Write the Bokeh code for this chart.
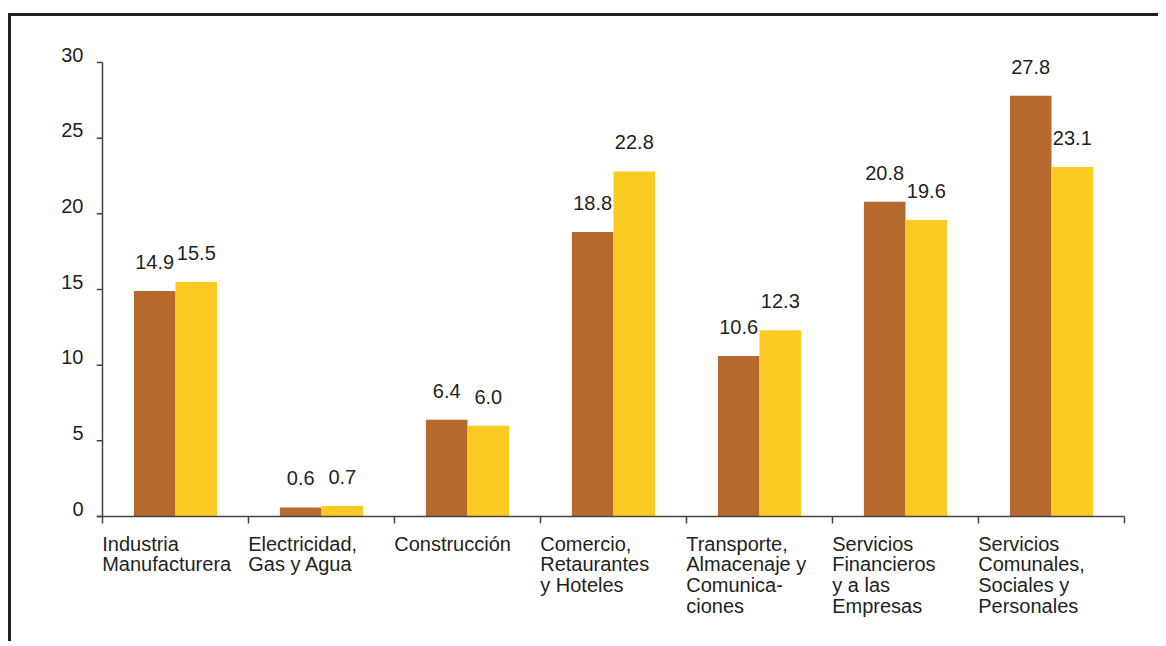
from bokeh.plotting import figure
from bokeh.models import Range1d, LinearAxis, FixedTicker, CustomJSTickFormatter
from bokeh.core.properties import value
from bokeh.embed import file_html
from bokeh.resources import INLINE

categories = [
    "Industria\nManufacturera",
    "Electricidad,\nGas y Agua",
    "Construcción",
    "Comercio,\nRetaurantes\ny Hoteles",
    "Transporte,\nAlmacenaje y\nComunica-\nciones",
    "Servicios\nFinancieros\ny a las\nEmpresas",
    "Servicios\nComunales,\nSociales y\nPersonales",
]
series_1 = [14.9, 0.6, 6.4, 18.8, 10.6, 20.8, 27.8]
series_2 = [15.5, 0.7, 6.0, 22.8, 12.3, 19.6, 23.1]
y_ticks = [0, 5, 10, 15, 20, 25, 30]

BROWN = "#B66A30"
YELLOW = "#FCCB23"
TEXT = "#231F20"
AXIS = "#444444"
FONT = "Liberation Sans"

# page geometry (content origin at 11, 16 after margin + border)
OX, OY = 11, 16
W, H = 1150, 628
n = len(categories)
cat_px = (1124 - 102) / n            # pixels per category
tick_len = 6
frame_left_px = 102 - tick_len
frame_right_px = 1126
x_start = -tick_len / cat_px
x_end = n + (frame_right_px - 1124) / cat_px

k = (516 - 62) / 30.0                # pixels per unit on y
y_end = 30 + (62 - OY) / k
y_start = -((OY + H) - 516) / k

p = figure(width=W, height=H, x_axis_type=None, y_axis_type=None,
           output_backend="svg", toolbar_location=None,
           x_range=Range1d(x_start, x_end), y_range=Range1d(y_start, y_end),
           min_border_left=frame_left_px - OX,
           min_border_right=OX + W - frame_right_px,
           min_border_top=0, min_border_bottom=0)
p.outline_line_color = None
p.background_fill_color = "white"
p.border_fill_color = "white"
p.styles = {"margin-top": "13px", "margin-left": "8px",
            "border-top": "3px solid #231f20",
            "border-left": "3px solid #231f20"}

# y axis labels, sitting just above their ticks
d = 8.0 / k
ax = LinearAxis(ticker=FixedTicker(ticks=[t + d for t in y_ticks]),
                formatter=CustomJSTickFormatter(code=f"return Math.round(tick - {d}).toString();"),
                axis_line_color=None, major_tick_line_color=None,
                major_tick_in=0, major_tick_out=0, minor_tick_line_color=None,
                major_label_standoff=13,
                major_label_text_font=FONT, major_label_text_font_size="20px",
                major_label_text_color=TEXT)
p.add_layout(ax, "left")

# y axis line and ticks
p.segment(x0=[0], y0=[0], x1=[0], y1=[max(y_ticks)], line_color=AXIS, line_width=1.5)
p.segment(x0=[x_start] * len(y_ticks), y0=y_ticks, x1=[0] * len(y_ticks), y1=y_ticks,
          line_color=AXIS, line_width=1.5)

bw = 0.285
xs = list(range(n))
c1 = [i + 0.5 - bw / 2 for i in xs]
c2 = [i + 0.5 + bw / 2 for i in xs]
p.vbar(x=c1, top=series_1, bottom=0, width=bw, fill_color=BROWN, line_color=None)
p.vbar(x=c2, top=series_2, bottom=0, width=bw, fill_color=YELLOW, line_color=None)

# x axis line and category boundary ticks
p.segment(x0=[x_start], y0=[0], x1=[n], y1=[0], line_color=AXIS, line_width=1.5)
bounds = list(range(n + 1))
p.segment(x0=bounds, y0=[0] * len(bounds), x1=bounds, y1=[-7.0 / k] * len(bounds),
          line_color=AXIS, line_width=1.5)

off = 29.0 / k
p.text(x=c1, y=[v + off for v in series_1], text=[f"{v:.1f}" for v in series_1],
       text_align="center", text_baseline="alphabetic", text_color=TEXT,
       text_font=value(FONT), text_font_size="20px")
p.text(x=c2, y=[v + off for v in series_2], text=[f"{v:.1f}" for v in series_2],
       text_align="center", text_baseline="alphabetic", text_color=TEXT,
       text_font=value(FONT), text_font_size="20px")

p.text(x=[i - 0.002 for i in xs], y=[-16.0 / k] * n, text=categories,
       text_align="left", text_baseline="top", text_color=TEXT,
       text_font=value(FONT), text_font_size="20px", text_line_height=0.95)

open("out.html", "w").write(file_html(p, INLINE))
